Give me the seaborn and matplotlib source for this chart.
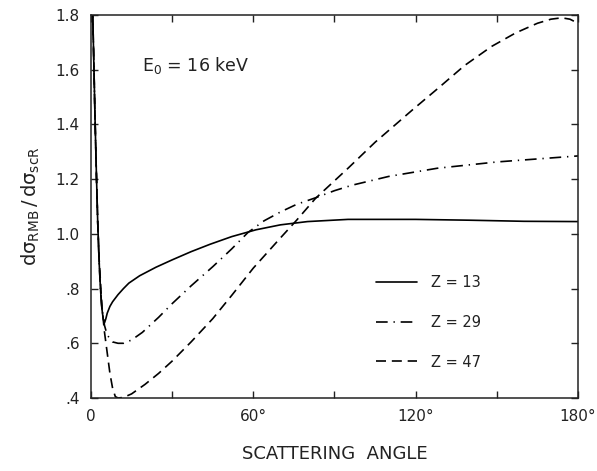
import numpy as np
import pandas as pd
import matplotlib
matplotlib.use("Agg")
import matplotlib.pyplot as plt
import seaborn as sns

# ---- data ----
angle_13 = [0.3, 1.0, 1.5, 2.0, 2.5, 3.0, 3.5, 4.0, 4.5, 5.0, 5.5, 6.0, 7.0, 8.0, 10.0, 12.0, 14.0, 18.0, 24.0, 30.0, 37.0, 44.0, 52.0, 61.0, 70.0, 80.0, 95.0, 120.0, 140.0, 160.0, 180.0]
ratio_13 = [1.95, 1.65, 1.42, 1.22, 1.04, 0.90, 0.80, 0.73, 0.69, 0.675, 0.69, 0.71, 0.735, 0.752, 0.778, 0.80, 0.82, 0.847, 0.878, 0.905, 0.935, 0.962, 0.99, 1.015, 1.033, 1.045, 1.053, 1.053, 1.05, 1.046, 1.045]

angle_29 = [0.3, 1.0, 1.5, 2.0, 2.5, 3.0, 3.5, 4.0, 5.0, 6.0, 8.0, 10.0, 12.0, 15.0, 19.0, 25.0, 30.0, 37.0, 45.0, 52.0, 58.0, 64.0, 70.0, 76.0, 83.0, 90.0, 96.5, 110.0, 128.0, 150.0, 180.0]
ratio_29 = [1.95, 1.65, 1.42, 1.22, 1.04, 0.90, 0.80, 0.73, 0.665, 0.63, 0.605, 0.60, 0.60, 0.612, 0.64, 0.695, 0.745, 0.81, 0.88, 0.945, 1.005, 1.048, 1.08, 1.108, 1.132, 1.158, 1.178, 1.21, 1.24, 1.263, 1.285]

angle_47 = [0.3, 1.0, 1.5, 2.0, 2.5, 3.0, 4.0, 5.0, 6.0, 7.0, 8.0, 9.0, 10.0, 12.0, 15.0, 20.0, 25.0, 30.0, 37.0, 45.0, 52.0, 60.0, 70.0, 76.0, 83.0, 95.0, 105.0, 119.0, 128.0, 138.0, 148.0, 157.0, 165.0, 170.0, 174.0, 177.0, 180.0]
ratio_47 = [1.95, 1.65, 1.42, 1.22, 1.04, 0.91, 0.74, 0.64, 0.565, 0.49, 0.435, 0.405, 0.40, 0.402, 0.415, 0.45, 0.49, 0.535, 0.605, 0.69, 0.775, 0.875, 0.985, 1.05, 1.13, 1.24, 1.335, 1.455, 1.53, 1.615, 1.685, 1.735, 1.77, 1.785, 1.79, 1.785, 1.77]

series_labels = ["Z = 13", "Z = 29", "Z = 47"]
y_ticks = [0.4, 0.6, 0.8, 1.0, 1.2, 1.4, 1.6, 1.8]
y_tick_labels = [".4", ".6", ".8", "1.0", "1.2", "1.4", "1.6", "1.8"]
x_ticks = [0, 60, 120, 180]
x_tick_labels = ["0", "60°", "120°", "180°"]
x_minor = [30, 90, 150]

df = pd.concat([
    pd.DataFrame({"angle": angle_13, "ratio": ratio_13, "Z": series_labels[0]}),
    pd.DataFrame({"angle": angle_29, "ratio": ratio_29, "Z": series_labels[1]}),
    pd.DataFrame({"angle": angle_47, "ratio": ratio_47, "Z": series_labels[2]}),
])

sns.set_style("ticks")
plt.rcParams["font.family"] = ["DejaVu Sans"]
plt.rcParams["mathtext.default"] = "regular"

fig = plt.figure(figsize=(5.97, 4.71), dpi=100)
ax = fig.add_axes([0.1524, 0.155, 0.8158, 0.813])

dash_map = {
    series_labels[0]: "",
    series_labels[1]: (7, 3.5, 0.8, 3.5),
    series_labels[2]: (6, 3.5),
}
sns.lineplot(data=df, x="angle", y="ratio", style="Z", dashes=dash_map,
             color="black", linewidth=1.2, sort=False, estimator=None,
             ax=ax, legend=True)
for ln in ax.lines:
    ln.set_solid_joinstyle("round")
    ln.set_dash_joinstyle("round")

ax.set_xlim(0, 180)
ax.set_ylim(0.4, 1.8)
ax.set_xticks(x_ticks)
ax.set_xticklabels(x_tick_labels, fontsize=11, color="#222222")
ax.set_xticks(x_minor, minor=True)
ax.set_yticks(y_ticks)
ax.set_yticklabels(y_tick_labels, fontsize=11, color="#222222")
ax.tick_params(axis="both", which="both", direction="in", top=True, right=True,
               length=5, width=1.0, pad=8, colors="#222222", labelcolor="#222222")
for s in ax.spines.values():
    s.set_linewidth(1.1)
    s.set_color("#222222")

ax.set_xlabel("SCATTERING  ANGLE", fontsize=13, labelpad=15, color="#222222")
ax.set_ylabel(r"$d\sigma_{RMB}\,/\,d\sigma_{scR}$", fontsize=14, labelpad=10, color="#222222")

ax.text(0.105, 0.855, r"E$_0$ = 16 keV", transform=ax.transAxes, fontsize=12.5, color="#222222")

handles, labels = ax.get_legend_handles_labels()
leg = ax.legend(handles, labels, loc="lower right", bbox_to_anchor=(0.828, 0.04),
                frameon=False, fontsize=10.5, handlelength=2.8, labelspacing=1.7,
                handletextpad=1.0)
for t in leg.get_texts():
    t.set_color("#222222")

fig.savefig("out.png", dpi=100)
